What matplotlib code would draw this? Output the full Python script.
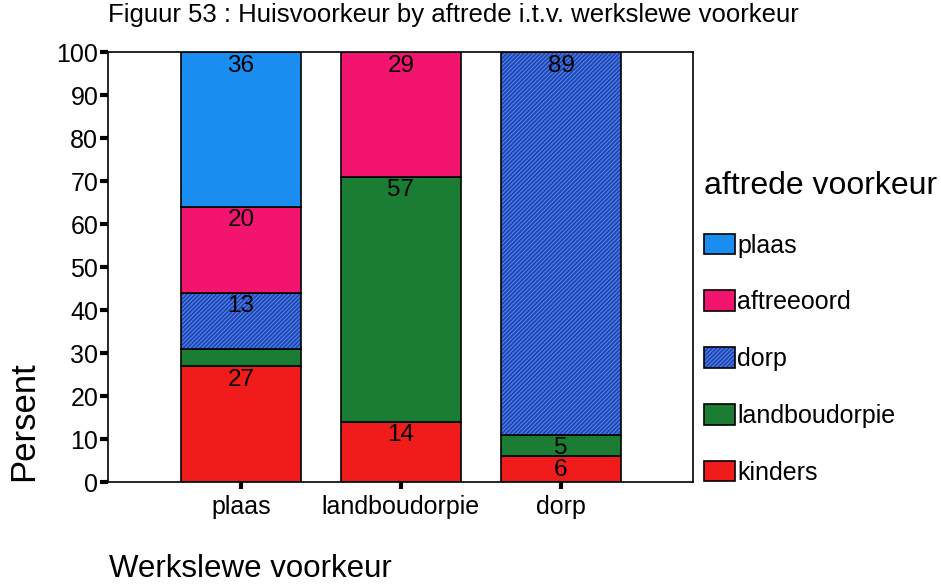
import matplotlib
matplotlib.use("Agg")
import matplotlib.pyplot as plt
from matplotlib.patches import Patch
from matplotlib.legend_handler import HandlerTuple

plt.rcParams['font.family'] = ['Liberation Sans', 'DejaVu Sans']
plt.rcParams['hatch.linewidth'] = 0.8

# werkslewe voorkeur (x categories)
werk = ['plaas', 'landboudorpie', 'dorp']

# aftrede voorkeur series, bottom to top, percent per bar
kinders = [27, 14, 6]
landboudorpie = [4, 57, 5]
dorp = [13, 0, 89]
aftreeoord = [20, 29, 0]
plaas = [36, 0, 0]

hatch_col = '#5a82da'
series = [
    ('kinders', kinders, '#f01c1c', None),
    ('landboudorpie', landboudorpie, '#1b7d34', None),
    ('dorp', dorp, '#1a48bc', '////////'),
    ('aftreeoord', aftreeoord, '#f2146f', None),
    ('plaas', plaas, '#1a8ef0', None),
]

fig = plt.figure(figsize=(9.41, 5.85), dpi=100)
ax = fig.add_axes([0.1148, 0.176, 0.6217, 0.735])

x = range(len(werk))
width = 0.75
bottom = [0, 0, 0]
for name, vals, col, hatch in series:
    if hatch:
        ax.bar(x, vals, width, bottom=bottom, color=col, edgecolor=hatch_col,
               hatch=hatch, linewidth=0)
    else:
        ax.bar(x, vals, width, bottom=bottom, color=col, linewidth=0)
    ax.bar(x, vals, width, bottom=bottom, fill=False, edgecolor='black',
           linewidth=1.2)
    for i, v in enumerate(vals):
        if v >= 5:
            ax.text(i, bottom[i] + v - 0.6, str(v), ha='center', va='top',
                    fontsize=17.5, color='black')
    bottom = [b + v for b, v in zip(bottom, vals)]

ax.set_xlim(-0.83, 2.825)
ax.set_ylim(0, 100)
ax.set_yticks(range(0, 101, 10))
ax.set_xticks(list(x))
ax.set_xticklabels(werk, fontsize=18)
ax.tick_params(axis='y', labelsize=18, length=6, width=3, pad=1)
ax.tick_params(axis='x', length=5, width=3, pad=4)
for s in ax.spines.values():
    s.set_linewidth(1.2)

fig.text(0.115, 0.974, 'Figuur 53 : Huisvoorkeur by aftrede i.t.v. werkslewe voorkeur',
         fontsize=18.5, ha='left', va='center')
fig.text(0.025, 0.28, 'Persent', rotation=90, fontsize=25, ha='center', va='center')
fig.text(0.116, 0.013, 'Werkslewe voorkeur', fontsize=22.5, ha='left', va='baseline')

handles = []
for n, _, c, h in reversed(series):
    if h:
        handles.append((Patch(facecolor=c, edgecolor=hatch_col, hatch=h, linewidth=0),
                        Patch(fill=False, edgecolor='black', linewidth=1.2)))
    else:
        handles.append(Patch(facecolor=c, edgecolor='black', linewidth=1.2))
labels = [n for n, _, _, _ in reversed(series)]
leg = fig.legend(handles, labels, loc='upper left',
                 handler_map={tuple: HandlerTuple(ndivide=1, pad=0)},
                 bbox_to_anchor=(0.737, 0.725), frameon=False,
                 fontsize=18, title='aftrede voorkeur', title_fontsize=23,
                 handlelength=1.25, handleheight=0.9, handletextpad=0.1,
                 labelspacing=1.31, borderaxespad=0, alignment='left')

fig.savefig('out.png', dpi=100)
